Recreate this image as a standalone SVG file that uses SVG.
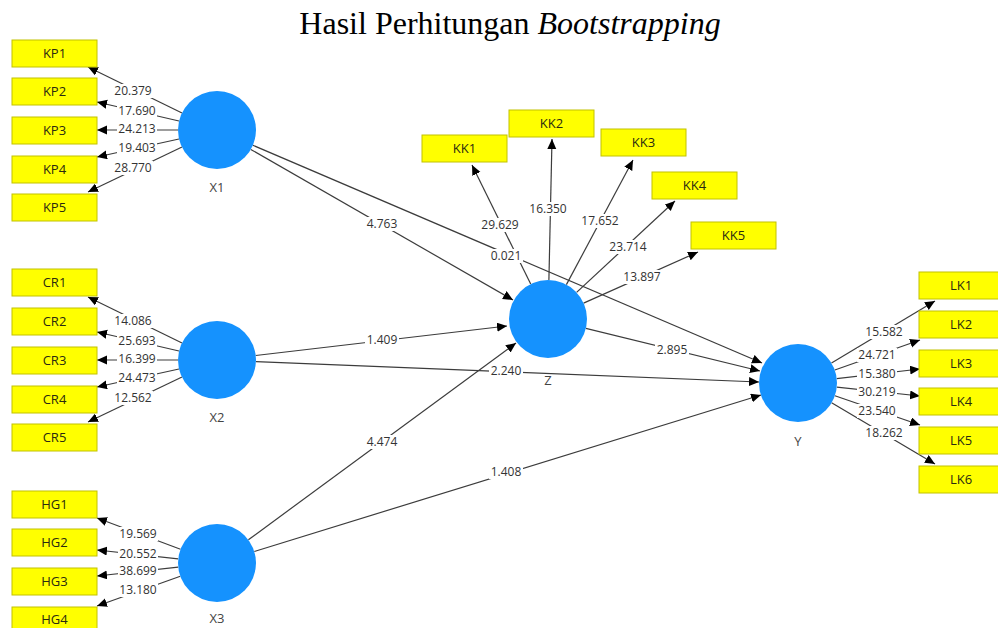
<svg xmlns="http://www.w3.org/2000/svg" width="998" height="628" viewBox="0 0 998 628">
<defs>
<marker id="ah" markerUnits="userSpaceOnUse" markerWidth="11" markerHeight="10" refX="10" refY="4.5" orient="auto">
<path d="M0,0 L10,4.5 L0,9 z" fill="#000"/>
</marker>
<style>
.ln{stroke:#3c3c3c;stroke-width:1.2;fill:none;marker-end:url(#ah)}
.bx{fill:#ffff00;stroke:#c2c200;stroke-width:1}
.bt{font-family:"Open Sans","Liberation Sans",sans-serif;font-size:13px;fill:#2a2a10;text-anchor:middle}
.lv{fill:#1592fe}
.lt{font-family:"Open Sans","Liberation Sans",sans-serif;font-size:13px;fill:#444;text-anchor:middle}
.eb{fill:#fff}
.et{font-family:"Open Sans","Liberation Sans",sans-serif;font-size:12px;fill:#333;text-anchor:middle}
</style>
</defs>
<rect width="998" height="628" fill="#fff"/>
<text x="510" y="34" font-family="'Liberation Serif','Times New Roman',serif" font-size="32" text-anchor="middle" fill="#000">Hasil Perhitungan <tspan font-style="italic">Bootstrapping</tspan></text>

<g id="connectors">
<line class="ln" x1="182" y1="113" x2="88" y2="67"/>
<line class="ln" x1="179" y1="121" x2="97" y2="102"/>
<line class="ln" x1="178" y1="130" x2="97" y2="130"/>
<line class="ln" x1="179" y1="139" x2="97" y2="157"/>
<line class="ln" x1="182" y1="147" x2="88" y2="192"/>

<line class="ln" x1="182" y1="343" x2="88" y2="297"/>
<line class="ln" x1="179" y1="351" x2="97" y2="332"/>
<line class="ln" x1="178" y1="360" x2="97" y2="360"/>
<line class="ln" x1="179" y1="369" x2="97" y2="387"/>
<line class="ln" x1="182" y1="377" x2="88" y2="422"/>

<line class="ln" x1="180.5" y1="549.3" x2="97" y2="518"/>
<line class="ln" x1="178.2" y1="558.8" x2="97" y2="550"/>
<line class="ln" x1="178.2" y1="567.2" x2="97" y2="576"/>
<line class="ln" x1="180.3" y1="576.2" x2="97" y2="606"/>

<line class="ln" x1="530.7" y1="284" x2="472" y2="165"/>
<line class="ln" x1="548.9" y1="280" x2="552" y2="139"/>
<line class="ln" x1="566.4" y1="284.6" x2="633" y2="160"/>
<line class="ln" x1="576.6" y1="292.4" x2="675" y2="201"/>
<line class="ln" x1="583.6" y1="303.1" x2="698" y2="252"/>

<line class="ln" x1="831.5" y1="363" x2="935" y2="301"/>
<line class="ln" x1="834.8" y1="370" x2="920" y2="340"/>
<line class="ln" x1="836.7" y1="378.6" x2="920" y2="369"/>
<line class="ln" x1="836.8" y1="387.1" x2="920" y2="396"/>
<line class="ln" x1="834.9" y1="395.7" x2="920" y2="425"/>
<line class="ln" x1="831.6" y1="402.8" x2="935" y2="464"/>

<line class="ln" x1="250.8" y1="149.4" x2="513" y2="300"/>
<line class="ln" x1="252.9" y1="145.3" x2="762" y2="363"/>
<line class="ln" x1="255.7" y1="355.5" x2="507" y2="326"/>
<line class="ln" x1="256" y1="361.6" x2="759" y2="382"/>
<line class="ln" x1="248.4" y1="539.8" x2="516" y2="343"/>
<line class="ln" x1="254.3" y1="551.5" x2="761" y2="395"/>
<line class="ln" x1="585.9" y1="328.3" x2="760" y2="371"/>
</g>

<g id="edge-labels">
<rect class="eb" x="113" y="84" width="40" height="14"/><text class="et" x="133" y="95">20.379</text>
<rect class="eb" x="117" y="104" width="40" height="14"/><text class="et" x="137" y="115">17.690</text>
<rect class="eb" x="117" y="122" width="40" height="14"/><text class="et" x="137" y="133">24.213</text>
<rect class="eb" x="117" y="141" width="40" height="14"/><text class="et" x="137" y="152">19.403</text>
<rect class="eb" x="113" y="161" width="40" height="14"/><text class="et" x="133" y="172">28.770</text>

<rect class="eb" x="113" y="314" width="40" height="14"/><text class="et" x="133" y="325">14.086</text>
<rect class="eb" x="117" y="334" width="40" height="14"/><text class="et" x="137" y="345">25.693</text>
<rect class="eb" x="117" y="352" width="40" height="14"/><text class="et" x="137" y="363">16.399</text>
<rect class="eb" x="117" y="371" width="40" height="14"/><text class="et" x="137" y="382">24.473</text>
<rect class="eb" x="113" y="391" width="40" height="14"/><text class="et" x="133" y="402">12.562</text>

<rect class="eb" x="118" y="527" width="40" height="14"/><text class="et" x="138" y="538">19.569</text>
<rect class="eb" x="118" y="547" width="40" height="14"/><text class="et" x="138" y="558">20.552</text>
<rect class="eb" x="118" y="564" width="40" height="14"/><text class="et" x="138" y="575">38.699</text>
<rect class="eb" x="118" y="583" width="40" height="14"/><text class="et" x="138" y="594">13.180</text>

<rect class="eb" x="480" y="218" width="40" height="14"/><text class="et" x="500" y="229">29.629</text>
<rect class="eb" x="528" y="202" width="40" height="14"/><text class="et" x="548" y="213">16.350</text>
<rect class="eb" x="580" y="214" width="40" height="14"/><text class="et" x="600" y="225">17.652</text>
<rect class="eb" x="608" y="240" width="40" height="14"/><text class="et" x="628" y="251">23.714</text>
<rect class="eb" x="622" y="270" width="40" height="14"/><text class="et" x="642" y="281">13.897</text>

<rect class="eb" x="864" y="325" width="40" height="14"/><text class="et" x="884" y="336">15.582</text>
<rect class="eb" x="857" y="348" width="40" height="14"/><text class="et" x="877" y="359">24.721</text>
<rect class="eb" x="857" y="367" width="40" height="14"/><text class="et" x="877" y="378">15.380</text>
<rect class="eb" x="857" y="385" width="40" height="14"/><text class="et" x="877" y="396">30.219</text>
<rect class="eb" x="857" y="404" width="40" height="14"/><text class="et" x="877" y="415">23.540</text>
<rect class="eb" x="864" y="426" width="40" height="14"/><text class="et" x="884" y="437">18.262</text>

<rect class="eb" x="365" y="217" width="34" height="14"/><text class="et" x="382" y="228">4.763</text>
<rect class="eb" x="489" y="249" width="34" height="14"/><text class="et" x="506" y="260">0.021</text>
<rect class="eb" x="365" y="333" width="34" height="14"/><text class="et" x="382" y="344">1.409</text>
<rect class="eb" x="489" y="364" width="34" height="14"/><text class="et" x="506" y="375">2.240</text>
<rect class="eb" x="365" y="435" width="34" height="14"/><text class="et" x="382" y="446">4.474</text>
<rect class="eb" x="489" y="465" width="34" height="14"/><text class="et" x="506" y="476">1.408</text>
<rect class="eb" x="655" y="343" width="34" height="14"/><text class="et" x="672" y="354">2.895</text>
</g>

<g id="X1"><circle class="lv" cx="217" cy="130" r="39"/><text class="lt" x="217" y="192">X1</text></g>
<g id="X2"><circle class="lv" cx="217" cy="360" r="39"/><text class="lt" x="217" y="422">X2</text></g>
<g id="X3"><circle class="lv" cx="217" cy="563" r="39"/><text class="lt" x="217" y="623" font-size="12">X3</text></g>
<g id="Z"><circle class="lv" cx="548" cy="319" r="39"/><text class="lt" x="548" y="385">Z</text></g>
<g id="Y"><circle class="lv" cx="798" cy="383" r="39"/><text class="lt" x="798" y="446">Y</text></g>

<g id="KP1"><rect class="bx" x="12" y="40" width="85" height="27"/><text class="bt" x="54.5" y="58">KP1</text></g>
<g id="KP2"><rect class="bx" x="12" y="78" width="85" height="27"/><text class="bt" x="54.5" y="96">KP2</text></g>
<g id="KP3"><rect class="bx" x="12" y="117" width="85" height="27"/><text class="bt" x="54.5" y="135">KP3</text></g>
<g id="KP4"><rect class="bx" x="12" y="156" width="85" height="27"/><text class="bt" x="54.5" y="174">KP4</text></g>
<g id="KP5"><rect class="bx" x="12" y="194" width="85" height="27"/><text class="bt" x="54.5" y="212">KP5</text></g>

<g id="CR1"><rect class="bx" x="12" y="269" width="85" height="27"/><text class="bt" x="54.5" y="287">CR1</text></g>
<g id="CR2"><rect class="bx" x="12" y="308" width="85" height="27"/><text class="bt" x="54.5" y="326">CR2</text></g>
<g id="CR3"><rect class="bx" x="12" y="347" width="85" height="27"/><text class="bt" x="54.5" y="365">CR3</text></g>
<g id="CR4"><rect class="bx" x="12" y="386" width="85" height="27"/><text class="bt" x="54.5" y="404">CR4</text></g>
<g id="CR5"><rect class="bx" x="12" y="424" width="85" height="27"/><text class="bt" x="54.5" y="442">CR5</text></g>

<g id="HG1"><rect class="bx" x="12" y="491" width="85" height="27"/><text class="bt" x="54.5" y="509">HG1</text></g>
<g id="HG2"><rect class="bx" x="12" y="529" width="85" height="27"/><text class="bt" x="54.5" y="547">HG2</text></g>
<g id="HG3"><rect class="bx" x="12" y="568" width="85" height="27"/><text class="bt" x="54.5" y="586">HG3</text></g>
<g id="HG4"><rect class="bx" x="12" y="607" width="85" height="27"/><text class="bt" x="54.5" y="624">HG4</text></g>

<g id="KK1"><rect class="bx" x="422" y="135" width="85" height="27"/><text class="bt" x="464.5" y="153">KK1</text></g>
<g id="KK2"><rect class="bx" x="509" y="110" width="85" height="27"/><text class="bt" x="551.5" y="128">KK2</text></g>
<g id="KK3"><rect class="bx" x="601" y="129" width="85" height="27"/><text class="bt" x="643.5" y="147">KK3</text></g>
<g id="KK4"><rect class="bx" x="652" y="172" width="85" height="27"/><text class="bt" x="694.5" y="190">KK4</text></g>
<g id="KK5"><rect class="bx" x="691" y="222" width="85" height="27"/><text class="bt" x="733.5" y="240">KK5</text></g>

<g id="LK1"><rect class="bx" x="919" y="272" width="85" height="27"/><text class="bt" x="961" y="290">LK1</text></g>
<g id="LK2"><rect class="bx" x="919" y="311" width="85" height="27"/><text class="bt" x="961" y="329">LK2</text></g>
<g id="LK3"><rect class="bx" x="919" y="350" width="85" height="27"/><text class="bt" x="961" y="368">LK3</text></g>
<g id="LK4"><rect class="bx" x="919" y="388" width="85" height="27"/><text class="bt" x="961" y="406">LK4</text></g>
<g id="LK5"><rect class="bx" x="919" y="427" width="85" height="27"/><text class="bt" x="961" y="445">LK5</text></g>
<g id="LK6"><rect class="bx" x="919" y="466" width="85" height="27"/><text class="bt" x="961" y="484">LK6</text></g>
</svg>
